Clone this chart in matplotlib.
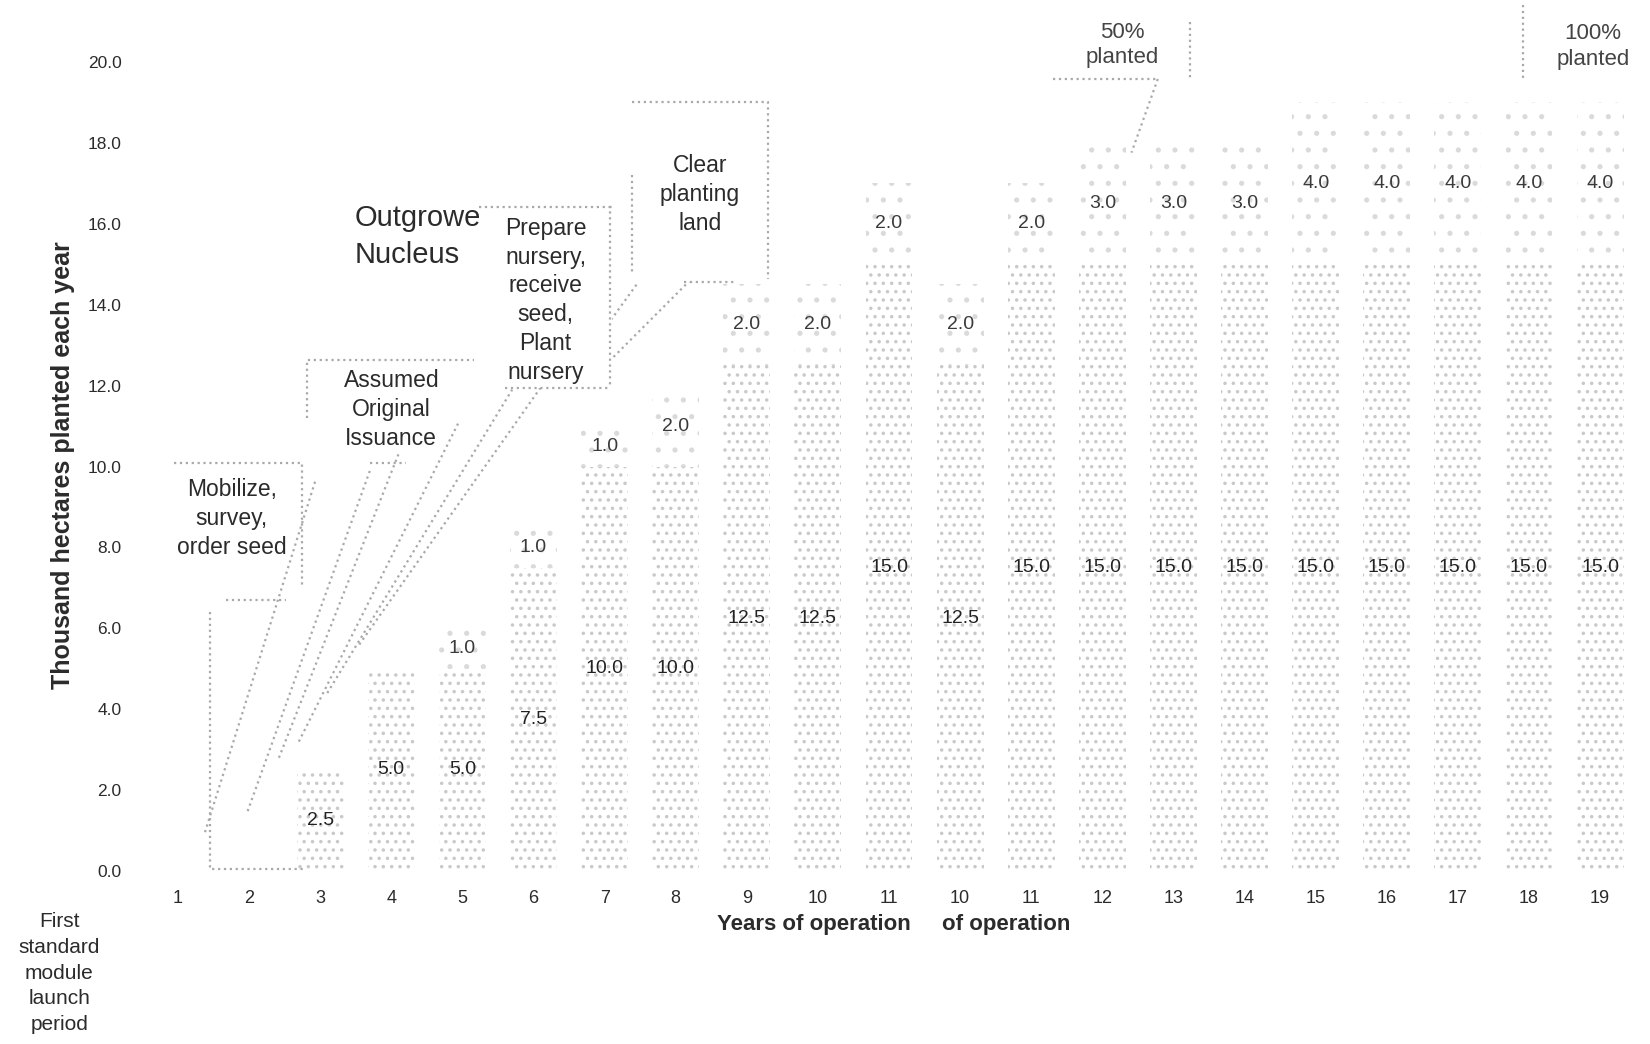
import numpy as np
import matplotlib
matplotlib.use('Agg')
import matplotlib.pyplot as plt
from matplotlib.patches import Rectangle

plt.rcParams['font.family'] = ['Liberation Sans', 'DejaVu Sans']
plt.rcParams['hatch.linewidth'] = 1.3

# data
year_labels = ['1', '2', '3', '4', '5', '6', '7', '8', '9', '10', '11',
               '10', '11', '12', '13', '14', '15', '16', '17', '18', '19']
nucleus = [0, 0, 2.5, 5.0, 5.0, 7.5, 10.0, 10.0, 12.5, 12.5, 15.0,
           12.5, 15.0, 15.0, 15.0, 15.0, 15.0, 15.0, 15.0, 15.0, 15.0]
outgrower = [0, 0, 0, 0, 1.0, 1.0, 1.0, 2.0, 2.0, 2.0, 2.0,
             2.0, 2.0, 3.0, 3.0, 3.0, 4.0, 4.0, 4.0, 4.0, 4.0]
y_ticks = [0, 2, 4, 6, 8, 10, 12, 14, 16, 18, 20]

ink = '#2b2b2b'
dots = '#a9a9a9'

fig = plt.figure(figsize=(16.5, 10.44), dpi=100)
ax = fig.add_axes([0.082, 0.1657, 0.9136, 0.833])

x = np.arange(1, len(year_labels) + 1)
nuc = np.array(nucleus)
out = np.array(outgrower)

# faint speckled bars, like the photocopy
ax.bar(x, nuc, width=0.66, color='white', edgecolor='#c9c9c9',
       linewidth=0, hatch='..', zorder=1)
ax.bar(x, out, bottom=nuc, width=0.66, color='white', edgecolor='#dadada',
       linewidth=0, hatch='.', zorder=1)

for xi, n, o in zip(x, nuc, out):
    if n > 0:
        ax.text(xi, n / 2, f'{n:.1f}', ha='center', va='center',
                fontsize=14, color='#222222', zorder=5)
    if o > 0:
        ax.text(xi, n + o / 2, f'{o:.1f}', ha='center', va='center',
                fontsize=14, color='#3a3a3a', zorder=5)

ax.set_xlim(0.4, 21.6)
ax.set_ylim(0, 21.5)
ax.set_xticks(x)
ax.set_xticklabels(year_labels)
ax.set_yticks(y_ticks)
ax.set_yticklabels([f'{v:.1f}' for v in y_ticks])
ax.tick_params(axis='x', length=0, pad=14, labelsize=13, labelcolor=ink)
ax.tick_params(axis='y', length=0, pad=10, labelsize=12.5, labelcolor=ink)
for s in ax.spines.values():
    s.set_visible(False)


def dotted(xs, ys, zorder=2):
    ax.plot(xs, ys, linestyle=':', color=dots, lw=1.6, clip_on=False,
            zorder=zorder)


# white boxes for the activity callouts
ax.add_patch(Rectangle((5.23, 11.95), 1.87, 4.46, facecolor='white',
                       edgecolor='none', zorder=3))
ax.add_patch(Rectangle((7.38, 14.56), 1.92, 4.45, facecolor='white',
                       edgecolor='none', zorder=3))

# callout outlines
dotted([0.94, 2.75, 2.75], [10.08, 10.08, 7.0])
dotted([1.68, 2.52], [6.69, 6.69])
dotted([2.82, 2.82, 5.16], [11.2, 12.63, 12.63])
dotted([3.7, 4.2], [10.08, 10.08])
dotted([5.23, 7.12, 7.08, 7.08], [16.41, 16.41, 16.41, 11.95], zorder=4)
dotted([5.6, 7.08], [11.95, 11.95], zorder=4)
dotted([7.38, 9.3, 9.3], [19.01, 19.01, 14.64], zorder=4)
dotted([8.12, 8.86], [14.56, 14.56], zorder=4)
dotted([7.38, 7.38], [17.2, 14.8], zorder=4)
dotted([15.23, 15.23], [21.0, 19.6])
dotted([13.3, 14.78], [19.58, 19.58])
dotted([14.78, 14.41], [19.58, 17.76])
dotted([19.92, 19.92], [21.4, 19.6])
dotted([1.45, 1.45, 2.78], [6.4, 0.05, 0.05])

# diagonal activity bands
diagonals = [
    ((1.38, 2.94), (0.96, 9.69)),
    ((1.98, 3.71), (1.48, 9.95)),
    ((2.42, 4.10), (2.80, 10.30)),
    ((2.70, 4.95), (3.20, 11.10)),
    ((3.10, 5.70), (4.40, 11.90)),
    ((3.55, 6.10), (5.60, 11.95)),
    ((6.75, 7.45), (12.80, 14.50)),
    ((6.95, 8.20), (12.40, 14.60)),
]
for xs, ys in diagonals:
    dotted(xs, ys)

# activity labels
box_font = dict(fontsize=16.5, color=ink, ha='center', va='center',
                linespacing=1.32, zorder=5)
ax.text(1.755, 8.72, 'Mobilize,\nsurvey,\norder seed', **box_font)
ax.text(4.0, 11.41, 'Assumed\nOriginal\nIssuance', **box_font)
ax.text(6.17, 14.11, 'Prepare\nnursery,\nreceive\nseed,\nPlant\nnursery',
        **box_font)
ax.text(8.34, 16.72, 'Clear\nplanting\nland', **box_font)
ax.text(14.28, 20.42, '50%\nplanted', fontsize=16, color='#444444',
        ha='center', va='center', linespacing=1.3)
ax.text(20.9, 20.39, '100%\nplanted', fontsize=16, color='#444444',
        ha='center', va='center', linespacing=1.3)

# series names
ax.text(3.49, 16.15, 'Outgrower', fontsize=21, color=ink, ha='left',
        va='center', zorder=2)
ax.text(3.49, 15.23, 'Nucleus', fontsize=21, color=ink, ha='left',
        va='center', zorder=2)

fig.text(0.038, 0.554, 'Thousand hectares planted each year', rotation=90,
         fontsize=18, fontweight='bold', color=ink, ha='center', va='center')
fig.text(0.493, 0.114, 'Years of operation', fontsize=16, fontweight='bold',
         color=ink, ha='center', va='center')
fig.text(0.61, 0.114, 'of operation', fontsize=16, fontweight='bold',
         color=ink, ha='center', va='center')
fig.text(0.036, 0.068, 'First\nstandard\nmodule\nlaunch\nperiod', fontsize=15,
         color=ink, ha='center', va='center', linespacing=1.45)

fig.savefig('out.png', dpi=100, facecolor='white')
